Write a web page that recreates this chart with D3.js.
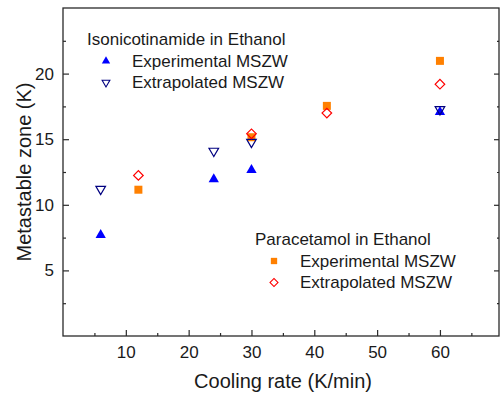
<!DOCTYPE html>
<html>
<head>
<meta charset="utf-8">
<script src="https://cdn.jsdelivr.net/npm/d3@7"></script>
<style>
  body { margin: 0; background: #fff; }
  text { font-family: Arial, "Liberation Sans", sans-serif; fill: #1a1a1a; }
</style>
</head>
<body>
<svg id="chart" width="500" height="395"></svg>
<script>
// Isonicotinamide in ethanol
const isoRate = [6, 24, 30, 60];
const isoExperimental = [7.7, 11.95, 12.65, 17.08];
const isoExtrapolated = [11.2, 14.1, 14.78, 17.27];

// Paracetamol in ethanol
const paraRate = [12, 30, 42, 60];
const paraExperimental = [11.15, 15.15, 17.54, 20.97];
const paraExtrapolated = [12.24, 15.41, 16.99, 19.19];

const xMajor = [10, 20, 30, 40, 50, 60];
const xMinor = [5, 15, 25, 35, 45, 55, 65];
const yMajor = [5, 10, 15, 20];
const yMinor = [2.5, 7.5, 12.5, 17.5, 22.5];

const margin = { top: 8, right: 1, bottom: 59, left: 63 };
const W = 500, H = 395;
const width = W - margin.left - margin.right;
const height = H - margin.top - margin.bottom;

const svg = d3.select('#chart');
const g = svg.append('g').attr('transform', 'translate(' + margin.left + ',' + margin.top + ')');

const x = d3.scaleLinear().domain([0, 69.4]).range([0, width]);
const y = d3.scaleLinear().domain([0, 25]).range([height, 0]);

const axisColor = '#2a2a2a';

// frame
g.append('rect').attr('width', width).attr('height', height)
  .attr('fill', 'none').attr('stroke', axisColor).attr('stroke-width', 1.3);

// bottom axis, ticks pointing inside
g.append('g').attr('transform', 'translate(0,' + height + ')')
  .call(d3.axisBottom(x).tickValues(xMajor).tickSizeInner(-6).tickSizeOuter(0).tickPadding(10));
g.append('g').attr('transform', 'translate(0,' + height + ')')
  .call(d3.axisBottom(x).tickValues(xMinor).tickSizeInner(-3).tickSizeOuter(0).tickFormat(''));

// left axis
g.append('g')
  .call(d3.axisLeft(y).tickValues(yMajor).tickSizeInner(-6).tickSizeOuter(0).tickPadding(9));
g.append('g')
  .call(d3.axisLeft(y).tickValues(yMinor).tickSizeInner(-3).tickSizeOuter(0).tickFormat(''));

// right axis
g.append('g').attr('transform', 'translate(' + width + ',0)')
  .call(d3.axisRight(y).tickValues(yMajor).tickSizeInner(-5).tickSizeOuter(0).tickFormat(''));
g.append('g').attr('transform', 'translate(' + width + ',0)')
  .call(d3.axisRight(y).tickValues(yMinor).tickSizeInner(-2).tickSizeOuter(0).tickFormat(''));

g.selectAll('.domain').remove();
g.selectAll('.tick line').attr('stroke', axisColor).attr('stroke-width', 1.2);
g.selectAll('.tick text').attr('font-size', 17).style('font-family', 'Arial, "Liberation Sans", sans-serif').attr('fill', '#1a1a1a');

// axis titles
svg.append('text').attr('x', margin.left + width / 2 + 2).attr('y', 388)
  .attr('text-anchor', 'middle').attr('font-size', 20).text('Cooling rate (K/min)');
svg.append('text').attr('transform', 'translate(31,' + (margin.top + height / 2) + ') rotate(-90)')
  .attr('text-anchor', 'middle').attr('font-size', 20).text('Metastable zone (K)');

// marker shapes
const tri = s => d3.symbol().type(d3.symbolTriangle).size(s)();
const sq = s => d3.symbol().type(d3.symbolSquare).size(s)();

const styles = {
  paraExp: { path: sq(64), rot: 0, fill: '#ff8000', stroke: 'none' },
  isoExp: { path: tri(46), rot: 0, fill: '#0000ff', stroke: 'none' },
  isoExt: { path: tri(40), rot: 180, fill: 'none', stroke: '#000080' },
  paraExt: { path: sq(46), rot: 45, fill: 'none', stroke: '#ff0000' }
};

function plot(xs, ys, st) {
  g.append('g').selectAll('path').data(xs).join('path')
    .attr('d', st.path)
    .attr('transform', (d, i) => 'translate(' + x(d) + ',' + y(ys[i]) + ') rotate(' + st.rot + ')')
    .attr('fill', st.fill).attr('stroke', st.stroke).attr('stroke-width', 1.2);
}

plot(paraRate, paraExperimental, styles.paraExp);
plot(isoRate, isoExperimental, styles.isoExp);
plot(isoRate, isoExtrapolated, styles.isoExt);
plot(paraRate, paraExtrapolated, styles.paraExt);

// legends
const legStyles = {
  paraExp: { path: sq(40), rot: 0, fill: '#ff8000', stroke: 'none' },
  isoExp: { path: tri(30), rot: 0, fill: '#0000ff', stroke: 'none' },
  isoExt: { path: tri(26), rot: 180, fill: 'none', stroke: '#000080' },
  paraExt: { path: sq(32), rot: 45, fill: 'none', stroke: '#ff0000' }
};

function legend(lx, ly, title, rows) {
  const lg = svg.append('g').attr('transform', 'translate(' + lx + ',' + ly + ')');
  lg.append('text').attr('x', 0).attr('y', 0).attr('dy', '0.35em').attr('font-size', 17).text(title);
  rows.forEach((r, i) => {
    const ry = 21.5 * (i + 1);
    lg.append('path').attr('d', r.st.path)
      .attr('transform', 'translate(19,' + ry + ') rotate(' + r.st.rot + ')')
      .attr('fill', r.st.fill).attr('stroke', r.st.stroke).attr('stroke-width', 1.1);
    lg.append('text').attr('x', 45).attr('y', ry).attr('dy', '0.35em').attr('font-size', 17).text(r.label);
  });
}

legend(87, 39.5, 'Isonicotinamide in Ethanol', [
  { st: legStyles.isoExp, label: 'Experimental MSZW' },
  { st: legStyles.isoExt, label: 'Extrapolated MSZW' }
]);
legend(255, 239.5, 'Paracetamol in Ethanol', [
  { st: legStyles.paraExp, label: 'Experimental MSZW' },
  { st: legStyles.paraExt, label: 'Extrapolated MSZW' }
]);
</script>
</body>
</html>
